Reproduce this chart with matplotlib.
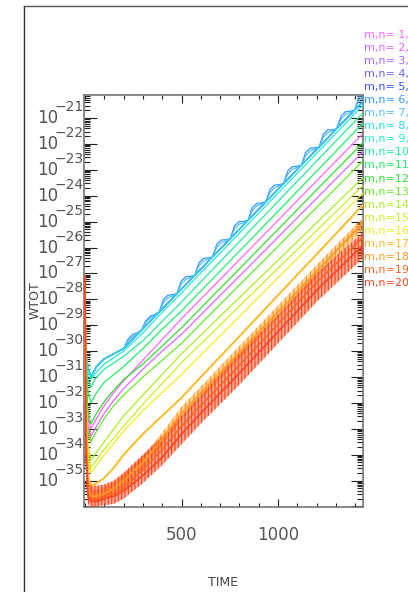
import numpy as np
import matplotlib
matplotlib.use("Agg")
import matplotlib.pyplot as plt
from matplotlib.ticker import LogLocator, MultipleLocator, NullFormatter, FixedLocator
from matplotlib import transforms

# ---------------- data (log10 of WTOT) ----------------
t_knots = [0, 5, 15, 30, 60, 100, 150, 200, 300, 400, 500, 600, 800, 1000, 1200, 1440]

lg01 = [-29.0, -31.0, -32.5, -33.0, -32.6, -32.1, -31.6, -31.15, -30.35, -29.55, -28.75, -27.99, -26.47, -24.95, -23.42, -21.6]
lg02 = [-29.0, -31.2, -32.8, -33.3, -32.9, -32.4, -31.9, -31.45, -30.7, -30.0, -29.35, -28.6, -27.1, -25.6, -24.1, -22.3]
lg03 = [-29.0, -30.0, -30.6, -31.0, -30.6, -30.3, -30.1, -29.9, -29.14, -28.37, -27.6, -26.83, -25.29, -23.75, -22.21, -20.36]
lg04 = [-29.0, -30.0, -30.6, -31.0, -30.6, -30.3, -30.1, -29.9, -29.14, -28.37, -27.6, -26.83, -25.29, -23.75, -22.21, -20.36]
lg05 = [-29.0, -30.0, -30.6, -31.0, -30.6, -30.3, -30.1, -29.9, -29.14, -28.37, -27.6, -26.83, -25.29, -23.75, -22.21, -20.36]
lg08 = [-29.0, -30.0, -30.6, -31.0, -30.6, -30.3, -30.1, -29.9, -29.14, -28.37, -27.6, -26.83, -25.29, -23.75, -22.21, -20.36]
lg09 = [-29.0, -30.2, -30.8, -31.1, -30.8, -30.5, -30.25, -30.0, -29.3, -28.5, -27.75, -26.98, -25.44, -23.9, -22.36, -20.5]
lg10 = [-29.0, -30.4, -31.1, -31.4, -31.0, -30.7, -30.45, -30.2, -29.6, -28.85, -28.1, -27.32, -25.77, -24.22, -22.66, -20.8]
lg11 = [-29.0, -30.6, -31.5, -32.0, -31.6, -31.2, -30.9, -30.6, -29.9, -29.15, -28.45, -27.68, -26.14, -24.6, -23.05, -21.2]
lg12 = [-29.0, -30.8, -32.3, -32.8, -32.4, -31.95, -31.5, -31.1, -30.5, -29.8, -29.1, -28.34, -26.82, -25.3, -23.77, -21.95]
lg13 = [-29.0, -31.3, -33.0, -33.5, -33.1, -32.6, -32.1, -31.7, -31.0, -30.35, -29.7, -28.95, -27.45, -25.95, -24.45, -22.65]
lg14 = [-29.0, -31.5, -33.6, -34.2, -33.9, -33.5, -33.0, -32.5, -31.7, -30.9, -30.1, -29.38, -27.93, -26.49, -25.04, -23.3]
lg15 = [-29.0, -31.6, -33.9, -34.5, -34.2, -33.8, -33.35, -32.9, -32.05, -31.25, -30.45, -29.72, -28.26, -26.8, -25.34, -23.6]
lg16 = [-28.5, -31.8, -34.2, -34.7, -34.4, -34.0, -33.55, -33.1, -32.3, -31.6, -30.9, -30.15, -28.66, -27.17, -25.68, -23.9]
lg17 = [-28.0, -32.0, -34.8, -35.2, -35.1, -34.9, -34.5, -34.0, -33.2, -32.5, -31.8, -31.0, -29.43, -27.84, -26.26, -24.35]
lg18 = [-27.2, -32.5, -35.3, -35.6, -35.6, -35.5, -35.3, -35.0, -34.3, -33.4, -32.4, -31.62, -30.05, -28.49, -26.92, -25.05]
lg19 = [-27.1, -33.5, -35.5, -35.7, -35.7, -35.6, -35.5, -35.3, -34.6, -33.8, -32.9, -32.1, -30.55, -28.95, -27.35, -25.6]
lg20 = [-27.1, -33.8, -35.6, -35.8, -35.8, -35.7, -35.6, -35.4, -34.8, -34.1, -33.2, -32.4, -30.85, -29.25, -27.65, -25.9]
# envelope of the noisy red band (modes 19-20) and of the orange band (mode 18)
band_hi = [-27.1, -33.0, -35.0, -35.2, -35.2, -35.15, -35.0, -34.7, -34.0, -33.3, -32.5, -31.7, -30.1, -28.6, -27.0, -25.4]
band_lo = [-27.5, -34.5, -35.9, -36.0, -36.0, -35.95, -35.9, -35.7, -35.1, -34.4, -33.6, -32.8, -31.3, -29.7, -28.1, -26.4]
band18_hi = [-27.1, -32.2, -35.0, -35.35, -35.35, -35.25, -35.05, -34.75, -34.05, -33.15, -32.15, -31.37, -29.8, -28.24, -26.67, -24.85]
band18_lo = [-27.3, -32.8, -35.6, -35.85, -35.85, -35.75, -35.55, -35.25, -34.55, -33.65, -32.65, -31.87, -30.3, -28.74, -27.17, -25.3]

# oscillating (arched) modes 6 and 7, sampled more finely
t_arch = [0, 5, 15, 30, 60, 100, 150] + list(range(200, 1443, 23))
lg06 = [-29.0, -30.0, -30.6, -31.0, -30.6, -30.3, -30.1,
        -29.91, -29.54, -29.36, -29.30, -29.20, -28.83, -28.65, -28.59,
        -28.49, -28.00, -27.84, -27.82, -27.78, -27.29, -27.13, -27.11,
        -27.08, -26.58, -26.42, -26.40, -26.37, -25.87, -25.71, -25.70,
        -25.66, -25.16, -25.00, -24.99, -24.95, -24.45, -24.30, -24.28,
        -24.24, -23.75, -23.59, -23.57, -23.53, -23.04, -22.88, -22.86,
        -22.83, -22.33, -22.17, -22.15, -22.12, -21.62, -21.46, -21.45,
        -21.41, -20.91, -20.75, -20.74, -20.70, -20.20, -20.05]
lg07 = [-29.0, -30.0, -30.6, -31.0, -30.6, -30.3, -30.1,
        -29.91, -29.61, -29.44, -29.34, -29.20, -28.90, -28.73, -28.63,
        -28.49, -28.12, -27.94, -27.87, -27.78, -27.41, -27.23, -27.16,
        -27.08, -26.70, -26.52, -26.45, -26.37, -25.99, -25.81, -25.75,
        -25.66, -25.28, -25.10, -25.04, -24.95, -24.57, -24.39, -24.33,
        -24.24, -23.87, -23.69, -23.62, -23.53, -23.16, -22.98, -22.91,
        -22.83, -22.45, -22.27, -22.20, -22.12, -21.74, -21.56, -21.50,
        -21.41, -21.03, -20.85, -20.79, -20.70, -20.32, -20.15]

mode_labels = ["m,n=%2d," % i for i in range(1, 21)]
colors = ["#ff66ff", "#dd66ff", "#aa66ff", "#6666ff", "#3355ff",
          "#3399ff", "#55bbff", "#22dded", "#22eecc", "#22ee99",
          "#22ee66", "#33dd33", "#66ee22", "#aaee22", "#ccee22",
          "#eeee22", "#ffbb22", "#ff9922", "#ff6622", "#ff4422"]

y_exp_labels = list(range(-21, -36, -1))
x_tick_major = [500, 1000]

# ---------------- figure ----------------
W, H = 408, 592
plt.rcParams["hatch.linewidth"] = 0.9
fig = plt.figure(figsize=(W / 100, H / 100), dpi=100)
fig.patch.set_facecolor("white")

# outer frame (left and top edges visible)
fig.add_artist(plt.Line2D([24 / W, 24 / W], [0, 1 - 6 / H], transform=fig.transFigure, color="#333333", lw=1.0))
fig.add_artist(plt.Line2D([24 / W, 1], [1 - 6 / H, 1 - 6 / H], transform=fig.transFigure, color="#555555", lw=1.0))

ax = fig.add_axes([84 / W, 1 - 507 / H, (363 - 84) / W, (507 - 95) / H])
ax.set_yscale("log")
ax.set_xlim(-5, 1440)
ax.set_ylim(10 ** -36.02, 10 ** -20.11)

lw = 0.9
for i, s in enumerate([lg01, lg02, lg03, lg04, lg05]):
    ax.plot(t_knots, 10 ** np.array(s), color=colors[i], lw=lw, zorder=2 + i)
ax.plot(t_arch, 10 ** np.array(lg06), color=colors[5], lw=lw, zorder=7)
ax.plot(t_arch, 10 ** np.array(lg07), color=colors[6], lw=lw, zorder=8)
for i, s in enumerate([lg08, lg09, lg10, lg11, lg12, lg13, lg14, lg15, lg16, lg17], start=7):
    ax.plot(t_knots, 10 ** np.array(s), color=colors[i], lw=lw + (0.5 if i == 16 else 0), zorder=2 + i)
# noisy bands: light fill with dense vertical hatching to suggest the spiky noise
ax.fill_between(t_knots, 10 ** np.array(band18_lo), 10 ** np.array(band18_hi),
                facecolor=(1.0, 0.6, 0.13, 0.45), edgecolor=colors[17], hatch="||||", lw=0, zorder=19)
ax.fill_between(t_knots, 10 ** np.array(band_lo), 10 ** np.array(band_hi),
                facecolor=(1.0, 0.3, 0.1, 0.45), edgecolor=colors[19], hatch="|||||", lw=0, zorder=20)
ax.plot(t_knots, 10 ** np.array(lg18), color=colors[17], lw=1.3, zorder=21)
ax.plot(t_knots, 10 ** np.array(lg19), color=colors[18], lw=1.2, zorder=22)
ax.plot(t_knots, 10 ** np.array(lg20), color=colors[19], lw=1.2, zorder=23)

# ticks
ax.xaxis.set_major_locator(FixedLocator(x_tick_major))
ax.xaxis.set_minor_locator(MultipleLocator(100))
ax.yaxis.set_major_locator(LogLocator(base=10, numticks=40))
ax.yaxis.set_minor_locator(LogLocator(base=10, subs=np.arange(2, 10), numticks=40))
ax.yaxis.set_major_formatter(NullFormatter())
ax.yaxis.set_minor_formatter(NullFormatter())
ax.tick_params(axis="both", which="both", direction="in", top=True, right=True, colors="#222222", width=0.8)
ax.tick_params(axis="x", which="major", length=5.5, labelsize=12, labelcolor="#555555", pad=14)
ax.tick_params(axis="x", which="minor", length=3)
ax.tick_params(axis="y", which="major", length=9)
ax.tick_params(axis="y", which="minor", length=4.5)
for sp in ax.spines.values():
    sp.set_color("#777777")
    sp.set_linewidth(1.2)

# y tick labels: "10" with exponent
base_tr = transforms.blended_transform_factory(fig.transFigure, ax.transData)
exp_tr = base_tr + transforms.ScaledTranslation(0, 11 / 100, fig.dpi_scale_trans)
for e in y_exp_labels:
    ax.text(58 / W, 10 ** e, "10", transform=base_tr, ha="right", va="center",
            fontsize=12, color="#555555", clip_on=False)
    ax.text(55 / W, 10 ** e, "\u2212%d" % (-e), transform=exp_tr, ha="left", va="center",
            fontsize=10, color="#555555", clip_on=False)

fig.text(35 / W, 1 - 300 / H, "WTOT", rotation=90, ha="center", va="center", fontsize=9, color="#444444")
fig.text(223 / W, 1 - 582 / H, "TIME", ha="center", va="center", fontsize=9, color="#444444")

for i, lab in enumerate(mode_labels):
    fig.text(364 / W, 1 - (35 + 13.05 * i) / H, lab, ha="left", va="center",
             fontsize=8, color=colors[i])

fig.savefig("out.png", dpi=100)
